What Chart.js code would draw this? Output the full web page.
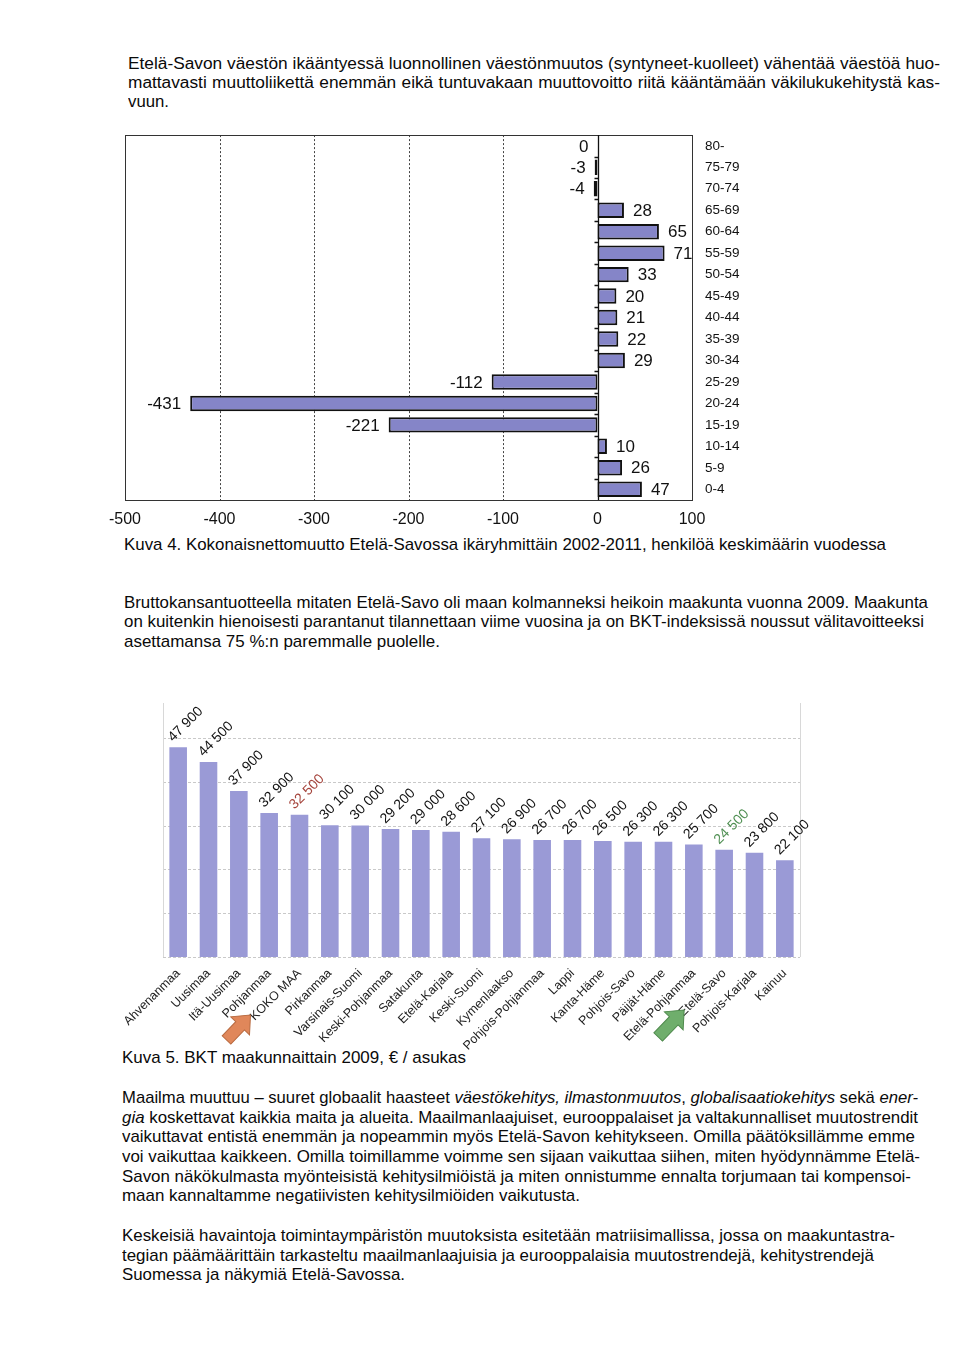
<!DOCTYPE html>
<html>
<head>
<meta charset="utf-8">
<script src="https://cdn.jsdelivr.net/npm/chart.js@4.4.0/dist/chart.umd.min.js"></script>
<style>
html, body { margin: 0; padding: 0; background: #fff; }
body { width: 960px; height: 1369px; position: relative; overflow: hidden; font-family: "Liberation Sans", Arial, sans-serif; color: #0a0a0a; }
.ln { position: absolute; white-space: nowrap; font-size: 17px; line-height: 20px; transform-origin: 0 50%; }
#wrap1 { position: absolute; left: 100px; top: 122px; width: 660px; height: 416px; }
#wrap2 { position: absolute; left: 100px; top: 690px; width: 720px; height: 365px; }
</style>
</head>
<body>
<div id="text"></div>
<div id="wrap1"><canvas id="migrationChart" width="660" height="416"></canvas></div>
<div id="wrap2"><canvas id="gdpChart" width="720" height="365"></canvas></div>
<script>
// Kuva 4 data
const ageGroups = ['80-', '75-79', '70-74', '65-69', '60-64', '55-59', '50-54', '45-49', '40-44',
    '35-39', '30-34', '25-29', '20-24', '15-19', '10-14', '5-9', '0-4'];
const netMigration = [0, -3, -4, 28, 65, 71, 33, 20, 21, 22, 29, -112, -431, -221, 10, 26, 47];
const migrationTicks = [-500, -400, -300, -200, -100, 0, 100];

// Kuva 5 data
const regions = ['Ahvenanmaa', 'Uusimaa', 'Itä-Uusimaa', 'Pohjanmaa', 'KOKO MAA', 'Pirkanmaa',
    'Varsinais-Suomi', 'Keski-Pohjanmaa', 'Satakunta', 'Etelä-Karjala', 'Keski-Suomi', 'Kymenlaakso',
    'Pohjois-Pohjanmaa', 'Lappi', 'Kanta-Häme', 'Pohjois-Savo', 'Päijät-Häme', 'Etelä-Pohjanmaa',
    'Etelä-Savo', 'Pohjois-Karjala', 'Kainuu'];
const gdpPerCapita = [47900, 44500, 37900, 32900, 32500, 30100, 30000, 29200, 29000, 28600, 27100,
    26900, 26700, 26700, 26500, 26300, 26300, 25700, 24500, 23800, 22100];
const gdpGridValues = [0, 10000, 20000, 30000, 40000, 50000];

// page text: [x, centre y, right edge, html, font size]
const textLines = [
    [128, 63, 940, 'Etelä-Savon väestön ikääntyessä luonnollinen väestönmuutos (syntyneet-kuolleet) vähentää väestöä huo-', 17.3],
    [128, 82, 940, 'mattavasti muuttoliikettä enemmän eikä tuntuvakaan muuttovoitto riitä kääntämään väkilukukehitystä kas-', 17.3],
    [128, 101, 169, 'vuun.', 17.3],
    [124, 545, 886, 'Kuva 4. Kokonaisnettomuutto Etelä-Savossa ikäryhmittäin 2002-2011, henkilöä keskimäärin vuodessa', 17],
    [124, 603, 928, 'Bruttokansantuotteella mitaten Etelä-Savo oli maan kolmanneksi heikoin maakunta vuonna 2009. Maakunta', 17],
    [124, 622, 924, 'on kuitenkin hienoisesti parantanut tilannettaan viime vuosina ja on BKT-indeksissä noussut välitavoitteeksi', 17],
    [124, 642, 440, 'asettamansa 75 %:n paremmalle puolelle.', 17],
    [122, 1058, 466, 'Kuva 5. BKT maakunnaittain 2009, € / asukas', 17],
    [122, 1098, 918, 'Maailma muuttuu – suuret globaalit haasteet <i>väestökehitys, ilmastonmuutos</i>, <i>globalisaatiokehitys</i> sekä <i>ener-</i>', 17],
    [122, 1118, 918, '<i>gia</i> koskettavat kaikkia maita ja alueita. Maailmanlaajuiset, eurooppalaiset ja valtakunnalliset muutostrendit', 17],
    [122, 1137, 915, 'vaikuttavat entistä enemmän ja nopeammin myös Etelä-Savon kehitykseen. Omilla päätöksillämme emme', 17],
    [122, 1157, 920, 'voi vaikuttaa kaikkeen. Omilla toimillamme voimme sen sijaan vaikuttaa siihen, miten hyödynnämme Etelä-', 17],
    [122, 1177, 911, 'Savon näkökulmasta myönteisistä kehitysilmiöistä ja miten onnistumme ennalta torjumaan tai kompensoi-', 17],
    [122, 1196, 580, 'maan kannaltamme negatiivisten kehitysilmiöiden vaikutusta.', 17],
    [122, 1236, 895, 'Keskeisiä havaintoja toimintaympäristön muutoksista esitetään matriisimallissa, jossa on maakuntastra-', 17],
    [122, 1256, 874, 'tegian päämäärittäin tarkasteltu maailmanlaajuisia ja eurooppalaisia muutostrendejä, kehitystrendejä', 17],
    [122, 1275, 405, 'Suomessa ja näkymiä Etelä-Savossa.', 17]
];

const textBox = document.getElementById('text');
textLines.forEach(function(line) {
    const el = document.createElement('div');
    el.className = 'ln';
    el.innerHTML = line[3];
    el.style.left = line[0] + 'px';
    el.style.top = (line[1] - 10) + 'px';
    el.style.fontSize = line[4] + 'px';
    textBox.appendChild(el);
    const target = line[2] - line[0];
    const natural = el.getBoundingClientRect().width;
    const spaces = (el.textContent.match(/ /g) || []).length;
    if (natural < target && spaces > 0) {
        el.style.wordSpacing = ((target - natural) / spaces) + 'px';
    } else {
        el.style.transform = 'scaleX(' + (target / natural) + ')';
    }
});

// ---------- Kuva 4 ----------
const migrationFrame = {
    id: 'migrationFrame',
    beforeDatasetsDraw(chart) {
        const {ctx, chartArea: a, scales: {x, y}} = chart;
        ctx.save();
        ctx.strokeStyle = '#444';
        ctx.lineWidth = 1;
        ctx.setLineDash([2, 2]);
        [-400, -300, -200, -100].forEach(function(v) {
            const px = Math.round(x.getPixelForValue(v)) + 0.5;
            ctx.beginPath();
            ctx.moveTo(px, a.top);
            ctx.lineTo(px, a.bottom);
            ctx.stroke();
        });
        ctx.setLineDash([]);
        ctx.strokeStyle = '#333';
        ctx.strokeRect(Math.round(a.left) + 0.5, Math.round(a.top) + 0.5, Math.round(a.right - a.left), Math.round(a.bottom - a.top));
        // zero axis with small ticks between groups
        const zx = Math.round(x.getPixelForValue(0)) + 0.5;
        ctx.strokeStyle = '#111';
        ctx.lineWidth = 1.3;
        ctx.beginPath();
        ctx.moveTo(zx, a.top);
        ctx.lineTo(zx, a.bottom);
        const step = (a.bottom - a.top) / ageGroups.length;
        for (let i = 1; i < ageGroups.length; i++) {
            const py = Math.round(a.top + step * i) + 0.5;
            ctx.moveTo(zx - 4, py);
            ctx.lineTo(zx, py);
        }
        ctx.stroke();
        ctx.restore();
    },
    afterDatasetsDraw(chart) {
        const {ctx} = chart;
        const meta = chart.getDatasetMeta(0);
        ctx.save();
        ctx.font = '17px "Liberation Sans", Arial, sans-serif';
        ctx.fillStyle = '#111';
        ctx.textBaseline = 'middle';
        meta.data.forEach(function(bar, i) {
            const v = netMigration[i];
            if (v > 0) {
                ctx.textAlign = 'left';
                ctx.fillText(String(v), bar.x + 9, bar.y + 1);
            } else {
                ctx.textAlign = 'right';
                ctx.fillText(String(v), bar.x - 9, bar.y + 1);
            }
        });
        ctx.restore();
    }
};

const migrationCtx = document.getElementById('migrationChart').getContext('2d');
new Chart(migrationCtx, {
    type: 'bar',
    data: {
        labels: ageGroups,
        datasets: [{
            data: netMigration,
            backgroundColor: '#8585c8',
            borderColor: '#111',
            borderWidth: 2,
            borderSkipped: false,
            barPercentage: 0.72,
            categoryPercentage: 1
        }]
    },
    options: {
        indexAxis: 'y',
        responsive: false,
        animation: false,
        layout: { padding: { left: 25, top: 1, right: 0, bottom: 0 } },
        plugins: { legend: { display: false }, tooltip: { enabled: false } },
        scales: {
            x: {
                min: -500,
                max: 100,
                afterBuildTicks: function(scale) {
                    scale.ticks = migrationTicks.map(v => ({ value: v }));
                },
                grid: { display: false },
                border: { display: false },
                ticks: { font: { size: 16, family: '"Liberation Sans", Arial' }, color: '#111', padding: 2 },
                afterFit: function(scale) { scale.height = 38; }
            },
            y: {
                position: 'right',
                grid: { display: false },
                border: { display: false },
                ticks: { font: { size: 13.5, family: '"Liberation Sans", Arial' }, color: '#111', padding: 5 },
                afterFit: function(scale) { scale.width = 68; }
            }
        }
    },
    plugins: [migrationFrame]
});

// ---------- Kuva 5 ----------
function formatThousands(v) {
    return Math.floor(v / 1000) + ' ' + String(v % 1000).padStart(3, '0');
}

function drawArrow(ctx, x0, y0, x1, y1, fill, edge) {
    const ang = Math.atan2(y1 - y0, x1 - x0);
    const len = Math.hypot(x1 - x0, y1 - y0);
    const head = 15, sw = 6, hw = 13;
    ctx.save();
    ctx.translate(x0, y0);
    ctx.rotate(ang);
    ctx.beginPath();
    ctx.moveTo(0, -sw);
    ctx.lineTo(len - head, -sw);
    ctx.lineTo(len - head, -hw);
    ctx.lineTo(len, 0);
    ctx.lineTo(len - head, hw);
    ctx.lineTo(len - head, sw);
    ctx.lineTo(0, sw);
    ctx.closePath();
    ctx.fillStyle = fill;
    ctx.fill();
    ctx.strokeStyle = edge;
    ctx.lineWidth = 1;
    ctx.stroke();
    ctx.restore();
}

const gdpDecor = {
    id: 'gdpDecor',
    beforeDatasetsDraw(chart) {
        const {ctx, chartArea: a, scales: {y}} = chart;
        ctx.save();
        ctx.strokeStyle = '#c9c9c9';
        ctx.lineWidth = 1;
        ctx.setLineDash([3, 2]);
        gdpGridValues.forEach(function(v) {
            const py = Math.round(y.getPixelForValue(v)) + 0.5;
            ctx.beginPath();
            ctx.moveTo(a.left, py);
            ctx.lineTo(a.right, py);
            ctx.stroke();
        });
        ctx.setLineDash([]);
        ctx.strokeStyle = '#d8d8d8';
        ctx.beginPath();
        ctx.moveTo(Math.round(a.left) + 0.5, a.top);
        ctx.lineTo(Math.round(a.left) + 0.5, a.bottom);
        ctx.moveTo(Math.round(a.right) + 0.5, a.top);
        ctx.lineTo(Math.round(a.right) + 0.5, a.bottom);
        ctx.stroke();
        ctx.restore();
    },
    afterDatasetsDraw(chart) {
        const {ctx, chartArea: a, scales: {x}} = chart;
        const meta = chart.getDatasetMeta(0);
        ctx.save();
        ctx.font = '14px "Liberation Sans", Arial, sans-serif';
        ctx.textAlign = 'left';
        ctx.textBaseline = 'alphabetic';
        meta.data.forEach(function(bar, i) {
            let color = '#111';
            if (regions[i] === 'KOKO MAA') color = '#a5443c';
            if (regions[i] === 'Etelä-Savo') color = '#4f8f52';
            ctx.save();
            ctx.translate(bar.x - 5, bar.y - 5);
            ctx.rotate(-Math.PI / 4);
            ctx.fillStyle = color;
            ctx.fillText(formatThousands(gdpPerCapita[i]), 0, 0);
            ctx.restore();
        });
        ctx.restore();
        // arrows pointing at the highlighted labels
        const kx = x.getPixelForValue(regions.indexOf('KOKO MAA'));
        const ex = x.getPixelForValue(regions.indexOf('Etelä-Savo'));
        drawArrow(ctx, kx - 73, a.bottom + 83, kx - 49, a.bottom + 58, '#e0875a', '#b86a40');
        drawArrow(ctx, ex - 66, a.bottom + 80, ex - 40, a.bottom + 53, '#6fae6c', '#4f8a4d');
    }
};

const gdpCtx = document.getElementById('gdpChart').getContext('2d');
new Chart(gdpCtx, {
    type: 'bar',
    data: {
        labels: regions,
        datasets: [{
            data: gdpPerCapita,
            backgroundColor: '#9a9ad6',
            barPercentage: 0.58,
            categoryPercentage: 1
        }]
    },
    options: {
        responsive: false,
        animation: false,
        layout: { padding: { left: 63, top: 13, right: 20, bottom: 0 } },
        plugins: { legend: { display: false }, tooltip: { enabled: false } },
        scales: {
            x: {
                grid: { display: false },
                border: { display: false },
                ticks: {
                    font: { size: 12.5, family: '"Liberation Sans", Arial' },
                    color: '#222',
                    minRotation: 45,
                    maxRotation: 45,
                    autoSkip: false,
                    padding: 1
                },
                afterFit: function(scale) { scale.height = 98; }
            },
            y: { display: false, min: 0, max: 58000 }
        }
    },
    plugins: [gdpDecor]
});
</script>
</body>
</html>
